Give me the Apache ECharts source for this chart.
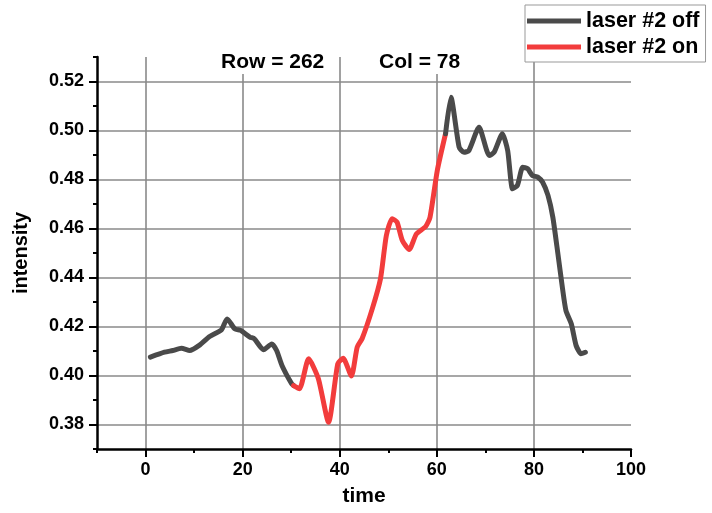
<!DOCTYPE html>
<html>
<head>
<meta charset="utf-8">
<script src="https://cdn.jsdelivr.net/npm/echarts@6/dist/echarts.min.js"></script>
<style>
  html, body { margin: 0; padding: 0; background: #fff; }
  #chart { width: 712px; height: 513px; }
</style>
</head>
<body>
<div id="chart"></div>
<script>
// laser #2 off, first part
var timeOff1 = [1, 3.9, 5.6, 7.4, 9.1, 11.2, 13.2, 15.6, 16.8, 18.4, 19.6, 21.5, 22.4, 24.3, 26.0, 27.0, 28.1, 30.1, 30.5];
var valOff1  = [0.4075, 0.4095, 0.4102, 0.4111, 0.4102, 0.4125, 0.4159, 0.4186, 0.4231, 0.4190, 0.4184, 0.4157, 0.4150, 0.4105, 0.4129, 0.4102, 0.4041, 0.3966, 0.3959];
// laser #2 on
var timeOn = [30.5, 31.7, 33.6, 35.6, 37.7, 39.6, 40.7, 42.4, 43.6, 44.6, 46.7, 48.4, 49.6, 50.8, 51.8, 52.9, 54.3, 55.8, 57.7, 58.6, 60.1, 61.8];
var valOn  = [0.3959, 0.3946, 0.4068, 0.3987, 0.3809, 0.4048, 0.4070, 0.3998, 0.4116, 0.4150, 0.4272, 0.4395, 0.4571, 0.4640, 0.4626, 0.4551, 0.4514, 0.4578, 0.4608, 0.4646, 0.4837, 0.4987];
// laser #2 off, second part
var timeOff2 = [61.8, 62.9, 64.6, 65.6, 66.6, 68.7, 70.8, 71.8, 73.5, 74.6, 75.6, 76.6, 77.7, 78.7, 79.7, 80.8, 81.8, 82.9, 83.9, 84.9, 85.9, 86.6, 87.7, 88.7, 89.7, 90.6];
var valOff2  = [0.4987, 0.5136, 0.4932, 0.4911, 0.4918, 0.5013, 0.4898, 0.4911, 0.4987, 0.4918, 0.4762, 0.4776, 0.4850, 0.4844, 0.4816, 0.4810, 0.4789, 0.4735, 0.4646, 0.4503, 0.4354, 0.4265, 0.4211, 0.4122, 0.4089, 0.4095];

var xMajor = [0, 20, 40, 60, 80, 100];
var yMajor = [0.38, 0.40, 0.42, 0.44, 0.46, 0.48, 0.50, 0.52];

var FONT = 'Liberation Sans, Arial, sans-serif';
var GRAY = '#4a4a4a';
var RED = '#f23c3c';
var GRID = '#8a8a8a';

function pairs(t, v) {
    var out = [];
    for (var i = 0; i < t.length; i++) out.push([t[i], v[i]]);
    return out;
}

var chart = echarts.init(document.getElementById('chart'));

function lineSeries(name, data, color) {
    return {
        name: name,
        type: 'line',
        xAxisIndex: 0,
        yAxisIndex: 0,
        data: data,
        showSymbol: false,
        smooth: 0.2,
        animation: false,
        itemStyle: { color: color },
        lineStyle: { color: color, width: 5, cap: 'round', join: 'round' },
        z: 3
    };
}

var option = {
    backgroundColor: '#fff',
    animation: false,
    title: [
        { text: 'Row = 262', left: 219, top: 50, padding: [1, 2, 1, 2], backgroundColor: '#fff',
          textStyle: { fontFamily: FONT, fontSize: 21, fontWeight: 'bold', color: '#000', lineHeight: 22 } },
        { text: 'Col = 78', left: 377, top: 50, padding: [1, 2, 1, 2], backgroundColor: '#fff',
          textStyle: { fontFamily: FONT, fontSize: 21, fontWeight: 'bold', color: '#000', lineHeight: 22 } }
    ],
    legend: {
        left: 525, top: 5,
        orient: 'vertical',
        padding: [5, 6, 4, 2],
        itemGap: 4,
        itemWidth: 54,
        itemHeight: 5,
        icon: 'rect',
        borderColor: '#999', borderWidth: 1,
        backgroundColor: '#fff',
        data: ['laser #2 off', 'laser #2 on'],
        textStyle: { fontFamily: FONT, fontSize: 21.5, fontWeight: 'bold', color: '#000', lineHeight: 21 }
    },
    grid: { left: 97, right: 81, top: 57, bottom: 64, containLabel: false },
    xAxis: [{
        type: 'value', min: -10, max: 100, interval: 10, position: 'bottom',
        name: 'time', nameLocation: 'middle', nameGap: 37,
        nameTextStyle: { fontFamily: FONT, fontSize: 21, fontWeight: 'bold', color: '#000' },
        axisLine: { onZero: false, lineStyle: { color: '#000', width: 2.5 } },
        axisTick: { length: 4, lineStyle: { color: '#000', width: 2 } },
        axisLabel: {
            margin: 12, fontFamily: FONT, fontSize: 18, fontWeight: 'bold', color: '#000',
            formatter: function (v) { return (v >= 0 && v % 20 === 0) ? String(v) : ''; }
        },
        splitLine: { show: true, lineStyle: { width: 1.6,
            color: ['transparent', GRID, 'transparent', GRID, 'transparent', GRID, 'transparent', GRID, 'transparent', GRID, 'transparent', 'transparent'] } }
    }, {
        type: 'value', min: -10, max: 100, interval: 10, position: 'bottom',
        axisLine: { show: false, onZero: false },
        axisTick: { length: 8, customValues: xMajor, lineStyle: { color: '#000', width: 2 } },
        axisLabel: { show: false },
        splitLine: { show: false }
    }],
    yAxis: [{
        type: 'value', min: 0.37, max: 0.53, interval: 0.01, position: 'left',
        name: 'intensity', nameLocation: 'middle', nameGap: 66,
        nameTextStyle: { fontFamily: FONT, fontSize: 20, fontWeight: 'bold', color: '#000' },
        axisLine: { show: true, onZero: false, lineStyle: { color: '#000', width: 2.5 } },
        axisTick: { show: true, length: 4, lineStyle: { color: '#000', width: 2 } },
        axisLabel: {
            margin: 13, fontFamily: FONT, fontSize: 18, fontWeight: 'bold', color: '#000',
            formatter: function (v) {
                var k = Math.round(v * 100);
                return (k % 2 === 0 && k >= 38 && k <= 52) ? (k / 100).toFixed(2) : '';
            }
        },
        splitLine: { show: true, lineStyle: { width: 1.6, color: ['transparent', GRID] } }
    }, {
        type: 'value', min: 0.37, max: 0.53, interval: 0.01, position: 'left',
        axisLine: { show: false, onZero: false },
        axisTick: { show: true, length: 8, customValues: yMajor, lineStyle: { color: '#000', width: 2 } },
        axisLabel: { show: false },
        splitLine: { show: false }
    }],
    series: [
        lineSeries('laser #2 off', pairs(timeOff1, valOff1), GRAY),
        lineSeries('laser #2 on', pairs(timeOn, valOn), RED),
        lineSeries('laser #2 off', pairs(timeOff2, valOff2), GRAY)
    ]
};

chart.setOption(option);
</script>
</body>
</html>
